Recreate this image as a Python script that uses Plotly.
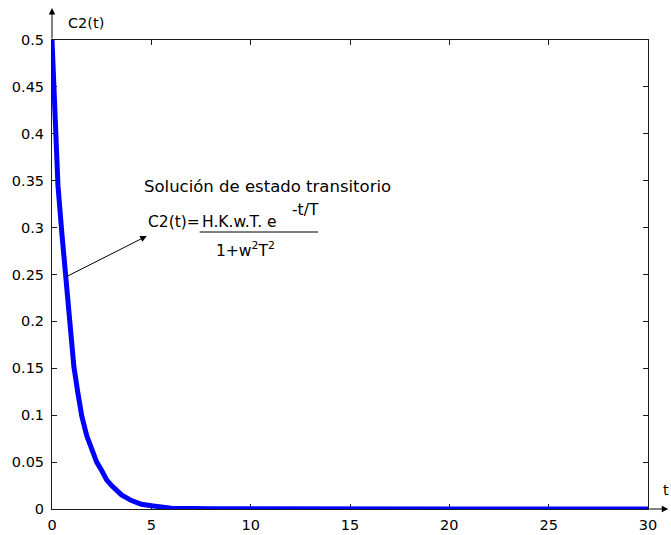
import plotly.graph_objects as go

# Transient-state response C2(t)
t = [0, 0.15, 0.3, 0.5, 0.7, 0.9, 1.1, 1.3, 1.5, 1.75, 2.0, 2.25, 2.5, 2.75,
     3.0, 3.25, 3.5, 4.0, 4.5, 5.0, 5.5, 6.0, 8, 10, 15, 20, 25, 30]
c2 = [0.5, 0.41, 0.345, 0.293, 0.245, 0.187, 0.152, 0.124, 0.099, 0.078, 0.062,
      0.050, 0.041, 0.031, 0.025, 0.019, 0.015, 0.009, 0.005, 0.0035, 0.0018,
      0.0009, 0.0002, 0, 0, 0, 0, 0]

x_ticks = [0, 5, 10, 15, 20, 25, 30]
y_ticks = [0, 0.05, 0.1, 0.15, 0.2, 0.25, 0.3, 0.35, 0.4, 0.45, 0.5]

FONT = "DejaVu Sans"
AX = "#1a1a1a"

fig = go.Figure()
fig.add_trace(go.Scatter(x=t, y=c2, mode="lines", cliponaxis=False,
                         line=dict(color="#0000ff", width=5),
                         hoverinfo="skip", showlegend=False))

axis_common = dict(showgrid=False, zeroline=False, showline=True, linecolor=AX,
                   linewidth=1, mirror="ticks", ticks="inside", ticklen=5,
                   tickcolor=AX, tickwidth=1, layer="below traces",
                   automargin=False,
                   tickfont=dict(family=FONT, size=14.5, color="#000"))

fig.update_xaxes(range=[0, 30], tickvals=x_ticks, ticklabelstandoff=3, **axis_common)
fig.update_yaxes(range=[0, 0.5], tickvals=y_ticks, ticklabelstandoff=4, **axis_common)

ann = []
# axis arrows
ann.append(dict(xref="x domain", yref="y domain", x=0, y=1.068,
                axref="x domain", ayref="y domain", ax=0, ay=1.0,
                showarrow=True, arrowhead=2, arrowsize=1.3, arrowwidth=1,
                arrowcolor="#000", text=""))
ann.append(dict(xref="x domain", yref="y domain", x=1.034, y=0,
                axref="x domain", ayref="y domain", ax=1.0, ay=0,
                showarrow=True, arrowhead=2, arrowsize=1.3, arrowwidth=1,
                arrowcolor="#000", text=""))
# axis names
ann.append(dict(xref="x domain", yref="y domain", x=0.023, y=1.037,
                xanchor="left", yanchor="middle", showarrow=False,
                text="C2(t)", font=dict(family=FONT, size=14.5, color="#000")))
ann.append(dict(xref="x domain", yref="y domain", x=1.0385, y=0.04,
                xanchor="right", yanchor="middle", showarrow=False,
                text="t", font=dict(family=FONT, size=14.5, color="#000")))

# pointer from the curve to the formula
ann.append(dict(xref="x", yref="y", x=4.77, y=0.291,
                axref="x", ayref="y", ax=0.66, ay=0.247,
                showarrow=True, arrowhead=2, arrowsize=1.3, arrowwidth=1,
                arrowcolor="#000", text=""))

head = dict(family=FONT, size=16.5, color="#000")
formula = dict(family=FONT, size=15.5, color="#000")
ann.append(dict(xref="x", yref="y", x=4.52, y=0.344, xanchor="left",
                yanchor="middle", showarrow=False,
                text="Solución de estado transitorio", font=head))
ann.append(dict(xref="x", yref="y", x=4.72, y=0.306, xanchor="left",
                yanchor="middle", showarrow=False, text="C2(t)=", font=formula))
ann.append(dict(xref="x", yref="y", x=7.43, y=0.306, xanchor="left",
                yanchor="middle", showarrow=False, text="H.K.w.T. e", font=formula))
ann.append(dict(xref="x", yref="y", x=12.0, y=0.319, xanchor="left",
                yanchor="middle", showarrow=False, text="-t/T", font=formula))
ann.append(dict(xref="x", yref="y", x=9.76, y=0.277, xanchor="center",
                yanchor="middle", showarrow=False,
                text="1+w<sup>2</sup>T<sup>2</sup>", font=formula))

fig.add_shape(type="line", xref="x", yref="y", x0=7.43, x1=13.4,
              y0=0.2953, y1=0.2953, line=dict(color="#000", width=1))

fig.update_layout(width=671, height=535, autosize=False,
                  margin=dict(l=52, r=23, t=40, b=26, pad=0),
                  paper_bgcolor="white", plot_bgcolor="white",
                  annotations=ann, showlegend=False)

fig.write_html("out.html")
